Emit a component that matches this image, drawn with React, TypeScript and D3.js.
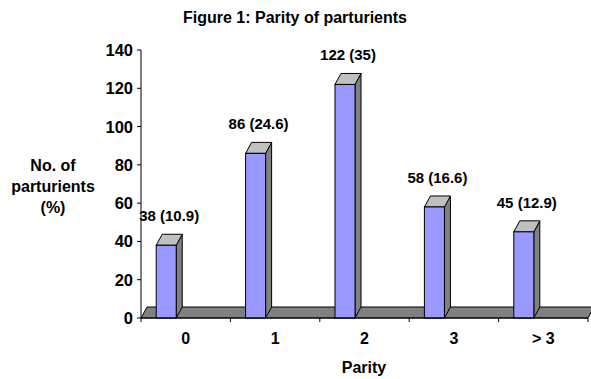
import React from "react";
import * as d3 from "d3";

const categories: string[] = ["0", "1", "2", "3", "> 3"];
const counts: number[] = [38, 86, 122, 58, 45];
const percents: string[] = ["10.9", "24.6", "35", "16.6", "12.9"];
const yTicks: number[] = [0, 20, 40, 60, 80, 100, 120, 140];

const W = 591;
const H = 379;
const FONT = "'Liberation Sans', Arial, sans-serif";

export default function App() {
  const x = d3.scaleBand<string>().domain(categories).range([141, 588]).padding(0);
  const y = d3.scaleLinear().domain([0, 140]).range([318, 50]);
  const bw = x.bandwidth();
  const dx = 6;
  const dy = -11;
  const barW = bw * 0.224;
  const y0 = y(0);

  return (
    <svg width={W} height={H} style={{ position: "absolute", left: 0, top: 0 }} fontFamily={FONT}>
      <rect width={W} height={H} fill="#ffffff" />
      <text x={295} y={23} textAnchor="middle" fontSize={16} fontWeight="bold">
        Figure 1: Parity of parturients
      </text>
      {/* floor */}
      <polygon
        points={`${x.range()[0]},${y0} ${x.range()[1]},${y0} ${x.range()[1] + dx},${y0 + dy} ${x.range()[0] + dx},${y0 + dy}`}
        fill="#808080"
        stroke="#000"
        strokeWidth={1}
      />
      {/* bars */}
      {categories.map((c, i) => {
        const left = (x(c) as number) + bw * 0.17;
        const right = left + barW;
        const top = y(counts[i]);
        return (
          <g key={c}>
            <polygon
              points={`${right},${top} ${right + dx},${top + dy} ${right + dx},${y0 + dy} ${right},${y0}`}
              fill="#808080"
              stroke="#000"
              strokeWidth={1}
            />
            <polygon
              points={`${left},${top} ${left + dx},${top + dy} ${right + dx},${top + dy} ${right},${top}`}
              fill="#C0C0C0"
              stroke="#000"
              strokeWidth={1}
            />
            <rect x={left} y={top} width={barW} height={y0 - top} fill="#9999FF" stroke="#000" strokeWidth={1} />
            <text
              x={(left + right + dx) / 2}
              y={top + dy - 13}
              textAnchor="middle"
              fontSize={15}
              fontWeight="bold"
            >
              {`${counts[i]} (${percents[i]})`}
            </text>
          </g>
        );
      })}
      {/* y axis */}
      <line x1={141} x2={141} y1={y(140)} y2={y0} stroke="#000" />
      {yTicks.map((t) => (
        <g key={t}>
          <line x1={137} x2={141} y1={y(t)} y2={y(t)} stroke="#000" />
          <text x={133} y={y(t) + 6} textAnchor="end" fontSize={16.5} fontWeight="bold">
            {t}
          </text>
        </g>
      ))}
      {/* x axis */}
      <line x1={141} x2={588} y1={y0} y2={y0} stroke="#000" />
      {[...categories.map((c) => x(c) as number), x.range()[1]].map((v, i) => (
        <line key={i} x1={v} x2={v} y1={y0} y2={y0 + 4} stroke="#000" />
      ))}
      {categories.map((c) => (
        <text
          key={c}
          x={(x(c) as number) + bw / 2}
          y={344}
          textAnchor="middle"
          fontSize={16}
          fontWeight="bold"
        >
          {c}
        </text>
      ))}
      <text x={364} y={373} textAnchor="middle" fontSize={16} fontWeight="bold">
        Parity
      </text>
      <text textAnchor="middle" fontSize={16} fontWeight="bold">
        <tspan x={53} y={171}>No. of</tspan>
        <tspan x={53} y={192}>parturients</tspan>
        <tspan x={53} y={213}>(%)</tspan>
      </text>
    </svg>
  );
}
